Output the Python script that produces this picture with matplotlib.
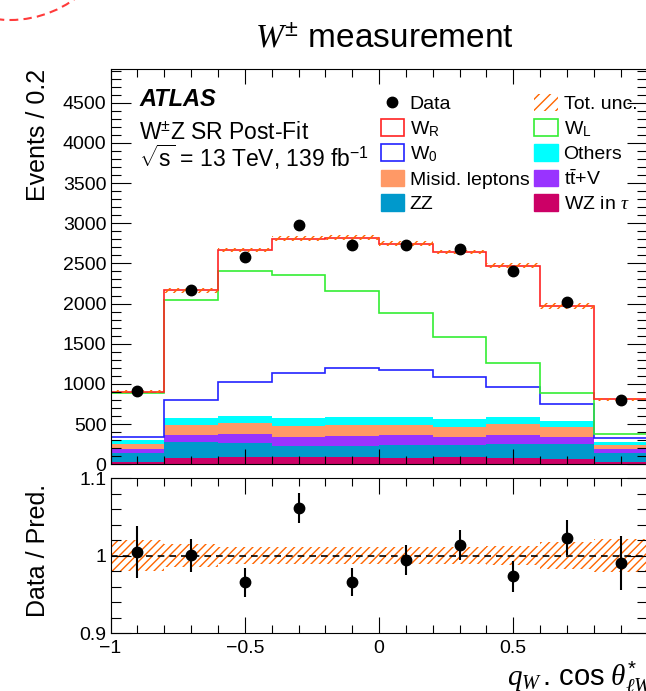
import numpy as np
import matplotlib
matplotlib.use('Agg')
import matplotlib.pyplot as plt
from matplotlib.patches import Patch, Ellipse
from matplotlib.lines import Line2D
from matplotlib.ticker import MultipleLocator, FixedLocator, FuncFormatter

plt.rcParams['font.family'] = ['Liberation Sans', 'DejaVu Sans']
plt.rcParams['mathtext.fontset'] = 'custom'
plt.rcParams['mathtext.rm'] = 'Liberation Sans'
plt.rcParams['mathtext.it'] = 'Liberation Serif:italic'
plt.rcParams['mathtext.bf'] = 'Liberation Sans:bold'
plt.rcParams['hatch.linewidth'] = 1.0

# binning of q_W * cos(theta*)
bin_edges = [-1.0, -0.8, -0.6, -0.4, -0.2, 0.0, 0.2, 0.4, 0.6, 0.8, 1.0]

# post-fit yields per bin (stack order bottom -> top)
wz_tau = [33, 74, 95, 95, 95, 82, 95, 74, 62, 33]
zz = [112, 208, 174, 136, 136, 158, 145, 176, 190, 112]
ttv = [49, 86, 104, 112, 121, 121, 103, 110, 91, 49]
misid = [55, 121, 137, 137, 137, 128, 125, 137, 117, 46]
others = [53, 83, 91, 98, 103, 103, 99, 89, 78, 41]
w_0 = [42, 228, 424, 564, 600, 583, 516, 381, 208, 42]
w_L = [539, 1250, 1383, 1208, 962, 708, 496, 291, 135, 50]
w_R = [21, 117, 259, 458, 667, 863, 1063, 1213, 1090, 435]

data = [908, 2168, 2575, 2980, 2725, 2730, 2678, 2405, 2016, 800]
# relative total uncertainty per bin
rel_unc = [0.020, 0.015, 0.011, 0.011, 0.011, 0.011, 0.011, 0.012, 0.018, 0.021]

c_tau = '#cc0066'
c_zz = '#0099cc'
c_ttv = '#9933ff'
c_misid = '#ff9966'
c_oth = '#00ffff'
c_w0 = '#2222ff'
c_wl = '#33ee33'
c_wr = '#ff2222'
c_unc = '#ff6600'

edges = np.array(bin_edges)
centers = 0.5 * (edges[1:] + edges[:-1])
fills = [(wz_tau, c_tau), (zz, c_zz), (ttv, c_ttv), (misid, c_misid), (others, c_oth)]

fig = plt.figure(figsize=(6.46, 6.91), dpi=100)
ax = fig.add_axes([0.1712, 0.3281, 0.8311, 0.5716])
axr = fig.add_axes([0.1712, 0.0839, 0.8311, 0.2243])

# stacked backgrounds
base = np.zeros(len(centers))
for vals, col in fills:
    top = base + np.array(vals)
    ax.stairs(top, edges, baseline=base, fill=True, color=col, lw=0)
    base = top

# signal components as lines on top of the stack
for vals, col in [(w_0, c_w0), (w_L, c_wl), (w_R, c_wr)]:
    base = base + np.array(vals)
    ax.stairs(base, edges, baseline=None, color=col, lw=1.2)
total = base

unc = total * np.array(rel_unc)
ax.stairs(total + unc, edges, baseline=total - unc, fill=True, facecolor='none',
          edgecolor=c_unc, hatch='////', lw=0)

data = np.array(data, dtype=float)
ax.errorbar(centers, data, yerr=np.sqrt(data), fmt='o', color='k', ms=7.5,
            elinewidth=1.5, capsize=0, zorder=5)

ax.set_xlim(-1, 1)
ax.set_ylim(0, 4915)
ax.set_ylabel('Events / 0.2', fontsize=18, loc='top')
ax.yaxis.set_label_coords(-0.112, 1.0)
ax.xaxis.set_major_locator(FixedLocator([-1, -0.5, 0, 0.5]))
ax.xaxis.set_minor_locator(MultipleLocator(0.1))
ax.yaxis.set_major_locator(MultipleLocator(500))
ax.yaxis.set_minor_locator(MultipleLocator(100))
ax.tick_params(axis='x', labelbottom=False)

# text block
ax.text(0.0535, 0.908, 'ATLAS', transform=ax.transAxes, fontsize=17,
        fontweight='bold', fontstyle='italic', va='baseline')
ax.text(0.0535, 0.824, r'W$^{\pm}$Z SR Post-Fit', transform=ax.transAxes,
        fontsize=16.5, va='baseline')
ax.text(0.0535, 0.753, r'$\sqrt{\mathrm{s}}$ = 13 TeV, 139 fb$^{-1}$',
        transform=ax.transAxes, fontsize=16.5, va='baseline')

handles = [Line2D([], [], marker='o', color='k', ls='none', ms=7.5),
           Patch(fc='white', ec=c_wr, lw=1.2),
           Patch(fc='white', ec=c_w0, lw=1.2),
           Patch(fc=c_misid, ec=c_misid),
           Patch(fc=c_zz, ec=c_zz),
           Patch(fc='none', ec=c_unc, hatch='///', lw=0),
           Patch(fc='white', ec=c_wl, lw=1.2),
           Patch(fc=c_oth, ec=c_oth),
           Patch(fc=c_ttv, ec=c_ttv),
           Patch(fc=c_tau, ec=c_tau)]
labels = ['Data', r'W$_\mathrm{R}$', r'W$_\mathrm{0}$', 'Misid. leptons', 'ZZ',
          'Tot. unc.', r'W$_\mathrm{L}$', 'Others', r't$\bar{\mathrm{t}}$+V',
          r'WZ in $\tau$']
ax.legend(handles, labels, ncol=2, loc='upper left', bbox_to_anchor=(0.503, 0.937),
          frameon=False, fontsize=14, handlelength=1.2, handleheight=0.95,
          handletextpad=0.3, columnspacing=0.25, labelspacing=0.29,
          borderpad=0, borderaxespad=0)

# ratio panel
ratio = data / total
ratio_err = np.sqrt(data) / total
axr.stairs(1 + np.array(rel_unc), edges, baseline=1 - np.array(rel_unc), fill=True,
           facecolor='none', edgecolor=c_unc, hatch='////', lw=0)
axr.axhline(1.0, color='k', lw=1.2, ls=(0, (4, 3)))
axr.errorbar(centers, ratio, yerr=ratio_err, fmt='o', color='k', ms=7.5,
             elinewidth=1.5, capsize=0, zorder=5)
axr.set_xlim(-1, 1)
axr.set_ylim(0.9, 1.1)
axr.xaxis.set_major_locator(FixedLocator([-1, -0.5, 0, 0.5]))
axr.xaxis.set_minor_locator(MultipleLocator(0.1))
axr.yaxis.set_major_locator(MultipleLocator(0.1))
axr.yaxis.set_minor_locator(MultipleLocator(0.02))
axr.yaxis.set_major_formatter(FuncFormatter(lambda v, p: f'{v:g}'))
axr.xaxis.set_major_formatter(FuncFormatter(lambda v, p: f'{v:g}'.replace('-', '\u2212')))
axr.set_ylabel('Data / Pred.', fontsize=18, loc='top')
axr.yaxis.set_label_coords(-0.112, 0.96)
axr.set_xlabel(r'$q_{W}\,.\,\cos\,\theta^{*}_{\ell W}$', fontsize=21, loc='right')
axr.xaxis.set_label_coords(1.012, -0.17)

for a, xl in [(ax, 15), (axr, 16)]:
    a.tick_params(which='both', direction='in', top=True, right=True,
                  labelsize=14, width=0.8)
    a.tick_params(axis='x', which='major', length=xl * 0.72, pad=5)
    a.tick_params(axis='x', which='minor', length=8 * 0.72)
    a.tick_params(axis='y', which='major', length=20 * 0.72, pad=3)
    a.tick_params(axis='y', which='minor', length=10 * 0.72)
    for s in a.spines.values():
        s.set_linewidth(0.8)

fig.text(384 / 646, 1 - 39 / 691, r'$W^{\pm}$ measurement', ha='center',
         va='center', fontsize=24)

# dashed annotation arc in the top-left corner
arc = Ellipse((10 / 646, 1 + 90 / 691), 220 / 646, 220 / 691, transform=fig.transFigure,
              fill=False, ec='#ff3b3b', lw=1.5, ls=(0, (4, 2.5)))
fig.add_artist(arc)

fig.savefig('out.png', dpi=100)
